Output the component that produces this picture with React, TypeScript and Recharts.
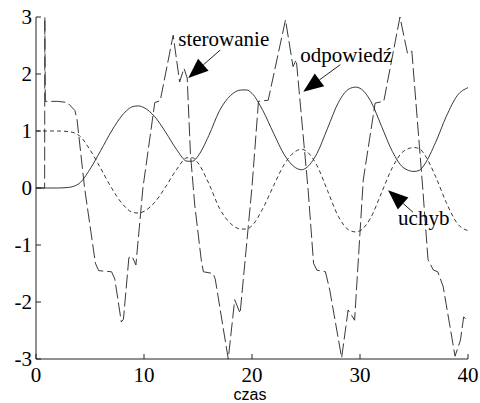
import * as React from "react";
import {
  LineChart,
  Line,
  XAxis,
  YAxis,
  ReferenceDot,
} from "recharts";

const X_TICKS = [0, 10, 20, 30, 40];
const Y_TICKS = [-3, -2, -1, 0, 1, 2, 3];

// odpowiedź (solid)
const odpowiedz = [
  [0, 0], [1, 0], [2, 0], [3, 0.01], [4, 0.08], [5, 0.33], [6, 0.66], [7, 1.0],
  [8, 1.28], [9, 1.43], [9.5, 1.44], [10, 1.41], [11, 1.25], [12, 0.98], [13, 0.68],
  [14, 0.47], [14.5, 0.47], [15, 0.56], [16, 0.92], [17, 1.36], [18, 1.62], [19, 1.72],
  [19.5, 1.72], [20, 1.66], [21, 1.36], [22, 0.96], [23, 0.58], [24, 0.36], [24.6, 0.32],
  [25, 0.35], [26, 0.6], [27, 1.05], [28, 1.5], [29, 1.74], [29.6, 1.77], [30, 1.75],
  [31, 1.52], [32, 1.08], [33, 0.64], [34, 0.36], [35, 0.29], [35.5, 0.31], [36, 0.42],
  [37, 0.8], [38, 1.26], [39, 1.62], [40, 1.76],
].map(([t, v]) => ({ t, v }));

// uchyb (short dashes)
const uchyb = [
  [0, 1], [1, 1], [2, 1], [3, 0.99], [4, 0.92], [5, 0.67], [6, 0.34], [7, 0],
  [8, -0.28], [9, -0.43], [9.5, -0.44], [10, -0.41], [11, -0.25], [12, 0.02], [13, 0.32],
  [14, 0.53], [14.5, 0.53], [15, 0.44], [16, 0.08], [17, -0.36], [18, -0.62], [19, -0.72],
  [19.5, -0.72], [20, -0.66], [21, -0.36], [22, 0.04], [23, 0.42], [24, 0.64], [24.6, 0.68],
  [25, 0.65], [26, 0.4], [27, -0.05], [28, -0.5], [29, -0.74], [29.6, -0.77], [30, -0.75],
  [31, -0.52], [32, -0.08], [33, 0.36], [34, 0.64], [35, 0.71], [35.5, 0.69], [36, 0.58],
  [37, 0.2], [38, -0.26], [39, -0.62], [40, -0.75],
].map(([t, v]) => ({ t, v }));

// sterowanie (long dashes)
const sterowanie = [
  [0, 0], [0.8, 0], [0.82, 3], [0.86, 1.52], [2, 1.52], [2.9, 1.5], [3.3, 1.42], [3.6, 1.36],
  [3.8, 1.2], [4.5, 0], [5.5, -1.32], [5.8, -1.45], [7.0, -1.47], [7.3, -1.6], [7.9, -2.35],
  [8.1, -2.3], [8.6, -1.22], [8.9, -1.2], [9.25, -1.35], [9.9, 0], [11.0, 1.5], [11.5, 1.53],
  [12.7, 2.68], [13.3, 1.86], [13.7, 2.1], [14.0, 1.93], [14.3, 0.6], [14.7, -0.3],
  [15.3, -1.26], [15.5, -1.47], [16.4, -1.5], [16.6, -1.6], [17.8, -3.0], [18.4, -1.96],
  [18.9, -2.2], [20.0, 0.02], [20.6, 1.52], [21.5, 1.54], [23.1, 2.95], [23.8, 2.13],
  [24.1, 2.25], [25.2, -0.04], [25.7, -1.32], [26.0, -1.44], [26.8, -1.47], [27.2, -1.79],
  [28.3, -2.98], [28.9, -2.14], [29.5, -2.32], [30.3, 0.14], [31.4, 1.49], [32.2, 1.52],
  [33.7, 3.0], [34.4, 2.36], [34.8, 2.4], [35.8, 0.02], [36.3, -1.26], [36.8, -1.44],
  [37.2, -1.47], [37.7, -1.73], [38.8, -2.95], [39.3, -2.67], [39.6, -2.26], [39.9, -2.32],
  [40, -2.3],
].map(([t, v]) => ({ t, v }));

// annotations: label + data point the arrow points at
const labels = ["sterowanie", "odpowiedź", "uchyb"];
const arrowTips = [
  [14.1, 1.93],
  [24.75, 1.69],
  [32.6, -0.04],
];

const arrowStyle = [
  { tail: [32, -28], text: [-10, -32] },
  { tail: [37, -27], text: [-3, -30] },
  { tail: [25, 22], text: [10, 35] },
];

const SERIF = "serif";
const SANS = "'Liberation Sans', Arial, sans-serif";
const INK = "#222";

const serifText = { fontFamily: SERIF, fontSize: 21 };

function Callout({ cx, cy, label, tail, text }: any) {
  const tx = cx + tail[0];
  const ty = cy + tail[1];
  const len = Math.hypot(tx - cx, ty - cy);
  const ux = (tx - cx) / len;
  const uy = (ty - cy) / len;
  const hl = 20;
  const hw = 8;
  const bx = cx + ux * hl;
  const by = cy + uy * hl;
  const pts = `${cx},${cy} ${bx - uy * hw},${by + ux * hw} ${bx + uy * hw},${by - ux * hw}`;
  return (
    <g>
      <line x1={bx} y1={by} x2={tx} y2={ty} stroke={INK} strokeWidth={1} />
      <polygon points={pts} fill="#000" />
      <text x={cx + text[0]} y={cy + text[1]} style={serifText} fill="#000">
        {label}
      </text>
    </g>
  );
}

function LeftTick({ x, y, payload }: any) {
  return (
    <g>
      <line x1={x} y1={y} x2={x + 5} y2={y} stroke={INK} />
      <text x={x - 4} y={y + 7} textAnchor="end" style={serifText} fill="#000">
        {payload.value}
      </text>
    </g>
  );
}

function BottomTick({ x, y, payload }: any) {
  return (
    <g>
      <line x1={x} y1={y} x2={x} y2={y - 5} stroke={INK} />
      <text x={x} y={y + 23} textAnchor="middle" style={serifText} fill="#000">
        {payload.value}
      </text>
    </g>
  );
}

function RightTick({ x, y }: any) {
  return <line x1={x} y1={y} x2={x - 5} y2={y} stroke={INK} />;
}

function TopTick({ x, y }: any) {
  return <line x1={x} y1={y} x2={x} y2={y + 5} stroke={INK} />;
}

export default function App() {
  return (
    <div style={{ position: "absolute", left: 0, top: 0, width: 480, height: 403, background: "#fff" }}>
      <LineChart width={480} height={403} margin={{ top: 17, right: 12, bottom: 0, left: 0 }}>
        <XAxis
          dataKey="t"
          type="number"
          domain={[0, 40]}
          ticks={X_TICKS}
          allowDataOverflow
          height={44}
          tickSize={0}
          tickMargin={0}
          tick={<BottomTick />}
          axisLine={{ stroke: INK }}
          label={({ viewBox }: any) => (
            <text
              x={viewBox.x + viewBox.width / 2 - 2}
              y={viewBox.y + 41}
              textAnchor="middle"
              style={{ fontFamily: SANS, fontSize: 16 }}
              fill="#000"
            >
              czas
            </text>
          )}
        />
        <XAxis
          xAxisId="top"
          orientation="top"
          dataKey="t"
          type="number"
          domain={[0, 40]}
          ticks={X_TICKS}
          height={0}
          tickSize={0}
          tickMargin={0}
          tick={<TopTick />}
          axisLine={{ stroke: INK }}
        />
        <YAxis
          type="number"
          domain={[-3, 3]}
          ticks={Y_TICKS}
          allowDataOverflow
          width={36}
          tickSize={0}
          tickMargin={0}
          tick={<LeftTick />}
          axisLine={{ stroke: INK }}
        />
        <YAxis
          yAxisId="right"
          orientation="right"
          type="number"
          domain={[-3, 3]}
          ticks={Y_TICKS}
          width={0}
          tickSize={0}
          tickMargin={0}
          tick={<RightTick />}
          axisLine={{ stroke: INK }}
        />
        <Line
          data={odpowiedz}
          dataKey="v"
          type="monotone"
          stroke={INK}
          strokeWidth={0.9}
          dot={false}
          isAnimationActive={false}
        />
        <Line
          data={uchyb}
          dataKey="v"
          type="monotone"
          stroke={INK}
          strokeWidth={0.9}
          strokeDasharray="4 3"
          dot={false}
          isAnimationActive={false}
        />
        <Line
          data={sterowanie}
          dataKey="v"
          type="linear"
          stroke={INK}
          strokeWidth={0.9}
          strokeDasharray="14 4"
          dot={false}
          isAnimationActive={false}
        />
        {labels.map((label, i) => (
          <ReferenceDot
            key={label}
            x={arrowTips[i][0]}
            y={arrowTips[i][1]}
            r={0}
            shape={(p: any) => (
              <Callout cx={p.cx} cy={p.cy} label={label} tail={arrowStyle[i].tail} text={arrowStyle[i].text} />
            )}
          />
        ))}
      </LineChart>
    </div>
  );
}
